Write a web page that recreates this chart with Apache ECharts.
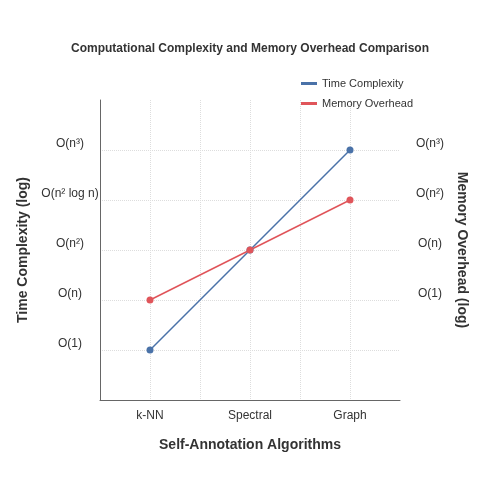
<!DOCTYPE html><html><head><meta charset="utf-8"><script src="https://cdn.jsdelivr.net/npm/echarts@6/dist/echarts.min.js"></script></head><body style="margin:0"><div id="c" style="width:500px;height:500px"></div><script>
const categories=['k-NN','Spectral','Graph'];
const catPos=[1,3,5];
const timeValues=[1,3,5];
const memoryValues=[2,3,4];
const leftTicks={1:'O(1)',2:'O(n)',3:'O(n²)',4:'O(n² log n)',5:'O(n³)'};
const rightTicks={2:'O(1)',3:'O(n)',4:'O(n²)',5:'O(n³)'};
const font='Liberation Sans, Arial, sans-serif';
const dot={type:'dotted',color:'#ddd'};
const c=echarts.init(document.getElementById('c'));
c.setOption({
 title:{text:'Computational Complexity and Memory Overhead Comparison',left:'center',top:38,textStyle:{fontSize:12,fontWeight:'bold',color:'#333',fontFamily:font}},
 legend:{orient:'vertical',left:296,top:73,itemWidth:16,itemHeight:3,itemGap:9,icon:'rect',textStyle:{fontSize:11,color:'#333',fontFamily:font},data:['Time Complexity','Memory Overhead']},
 grid:{left:100,right:100,top:100,bottom:100,containLabel:false,outerBoundsMode:'none'},
 xAxis:{type:'value',min:0,max:6,interval:1,name:'Self-Annotation Algorithms',nameLocation:'middle',nameGap:38,
  nameTextStyle:{fontSize:14,fontWeight:'bold',color:'#333',fontFamily:font},
  axisLine:{lineStyle:{color:'#666'}},axisTick:{show:false},
  axisLabel:{fontSize:12,color:'#333',fontFamily:font,margin:10,formatter:v=>{const i=catPos.indexOf(v);return i>=0?categories[i]:'';}},
  splitLine:{show:true,showMinLine:false,showMaxLine:false,lineStyle:dot}},
 yAxis:[{type:'value',min:0,max:6,interval:1,name:'Time Complexity (log)',nameLocation:'middle',nameGap:50,
  nameTextStyle:{fontSize:14,fontWeight:'bold',color:'#333',fontFamily:font},
  axisLine:{show:true,lineStyle:{color:'#666'}},axisTick:{show:false},
  axisLabel:{fontSize:12,color:'#333',fontFamily:font,margin:30,align:'center',verticalAlign:'bottom',formatter:v=>leftTicks[v]||''},
  splitLine:{show:true,showMinLine:false,showMaxLine:false,lineStyle:dot}},
  {type:'value',min:0,max:6,interval:1,position:'right',name:'Memory Overhead (log)',nameLocation:'middle',nameGap:28,nameRotate:-90,
  nameTextStyle:{fontSize:14,fontWeight:'bold',color:'#333',fontFamily:font},
  axisLine:{show:false},axisTick:{show:false},
  axisLabel:{fontSize:12,color:'#333',fontFamily:font,margin:30,align:'center',verticalAlign:'bottom',formatter:v=>rightTicks[v]||''},
  splitLine:{show:false}}],
 series:[
  {name:'Time Complexity',type:'line',data:catPos.map((x,i)=>[x,timeValues[i]]),color:'#4a72a8',symbol:'circle',symbolSize:7,lineStyle:{width:1.5}},
  {name:'Memory Overhead',type:'line',yAxisIndex:1,data:catPos.map((x,i)=>[x,memoryValues[i]]),color:'#e0555a',symbol:'circle',symbolSize:7,lineStyle:{width:1.5}}
 ]
});
</script></body></html>
